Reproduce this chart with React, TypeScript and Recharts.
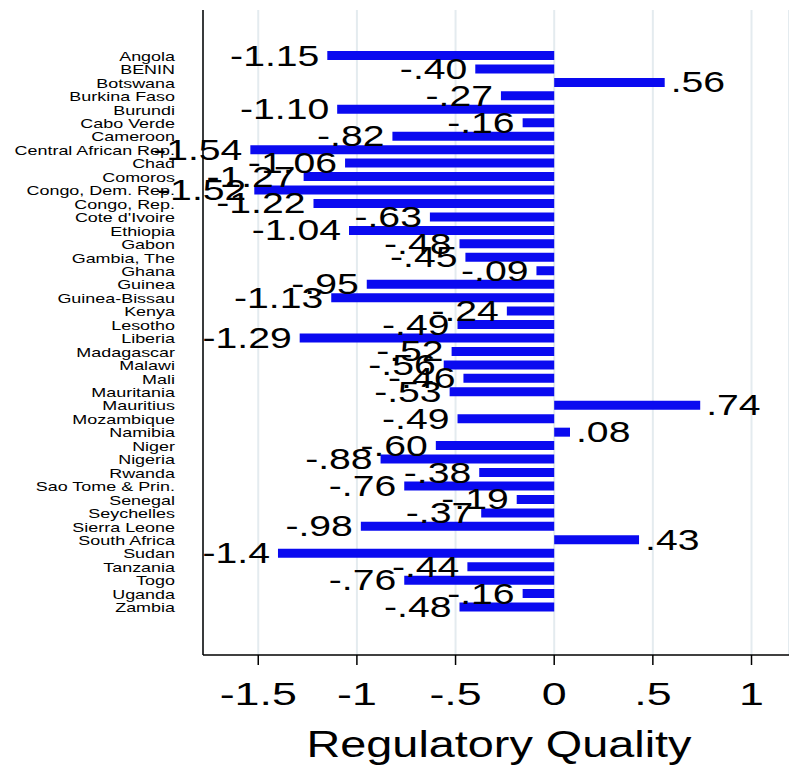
import React from 'react'
import { BarChart, Bar, XAxis, YAxis, CartesianGrid, LabelList } from 'recharts'

const countries = ['Angola', 'BENIN', 'Botswana', 'Burkina Faso', 'Burundi', 'Cabo Verde', 'Cameroon', 'Central African Rep.', 'Chad', 'Comoros', 'Congo, Dem. Rep.', 'Congo, Rep.', "Cote d'Ivoire", 'Ethiopia', 'Gabon', 'Gambia, The', 'Ghana', 'Guinea', 'Guinea-Bissau', 'Kenya', 'Lesotho', 'Liberia', 'Madagascar', 'Malawi', 'Mali', 'Mauritania', 'Mauritius', 'Mozambique', 'Namibia', 'Niger', 'Nigeria', 'Rwanda', 'Sao Tome & Prin.', 'Senegal', 'Seychelles', 'Sierra Leone', 'South Africa', 'Sudan', 'Tanzania', 'Togo', 'Uganda', 'Zambia']
const values = [-1.15, -0.4, 0.56, -0.27, -1.1, -0.16, -0.82, -1.54, -1.06, -1.27, -1.52, -1.22, -0.63, -1.04, -0.48, -0.45, -0.09, -0.95, -1.13, -0.24, -0.49, -1.29, -0.52, -0.56, -0.46, -0.53, 0.74, -0.49, 0.08, -0.6, -0.88, -0.38, -0.76, -0.19, -0.37, -0.98, 0.43, -1.4, -0.44, -0.76, -0.16, -0.48]
const valueLabels = ['-1.15', '-.40', '.56', '-.27', '-1.10', '-.16', '-.82', '-1.54', '-1.06', '-1.27', '-1.52', '-1.22', '-.63', '-1.04', '-.48', '-.45', '-.09', '-.95', '-1.13', '-.24', '-.49', '-1.29', '-.52', '-.56', '-.46', '-.53', '.74', '-.49', '.08', '-.60', '-.88', '-.38', '-.76', '-.19', '-.37', '-.98', '.43', '-1.4', '-.44', '-.76', '-.16', '-.48']
const xTicks = [-1.5, -1, -0.5, 0, 0.5, 1]
const xTickLabels = ['-1.5', '-1', '-.5', '0', '.5', '1']

const data = countries.map((c, i) => ({ country: c, value: values[i], label: valueLabels[i] }))
const font = 'Liberation Sans, Arial, sans-serif'

// stata text is stretched wide, so scale horizontally around the anchor
const EndLabel = (props: any) => {
  const { x, y, width, height, index } = props
  const v = values[index]
  const end = x + width
  const neg = v < 0
  return (
    <g transform={`translate(${neg ? end - 8 : end + 6},${y + height / 2 + 10}) scale(1.35,1)`}>
      <text x={0} y={0} textAnchor={neg ? 'end' : 'start'} fontSize={29} fill="#000" fontFamily={font}>
        {valueLabels[index]}
      </text>
    </g>
  )
}

const XTick = (props: any) => {
  const { x, y, payload } = props
  return (
    <g transform={`translate(${x},${y + 38}) scale(1.4,1)`}>
      <text x={0} y={0} textAnchor="middle" fontSize={32} fill="#000" fontFamily={font}>
        {xTickLabels[xTicks.indexOf(payload.value)]}
      </text>
    </g>
  )
}

const YTick = (props: any) => {
  const { x, y, payload } = props
  return (
    <g transform={`translate(${x - 20},${y + 5}) scale(1.38,1)`}>
      <text x={0} y={0} textAnchor="end" fontSize={13} fill="#000" fontFamily={font}>
        {payload.value}
      </text>
    </g>
  )
}

const Title = (props: any) => {
  const { viewBox } = props
  const cx = viewBox.x + viewBox.width / 2 + 3
  return (
    <g transform={`translate(${cx},757) scale(1.3,1)`}>
      <text x={0} y={0} textAnchor="middle" fontSize={36} fill="#000" fontFamily={font}>Regulatory Quality</text>
    </g>
  )
}

export default function App() {
  return (
    <div style={{ position: 'absolute', left: 0, top: 0, background: '#fff' }}>
      <BarChart width={789} height={767} data={data} layout="vertical"
        margin={{ top: 10, right: 0, bottom: 0, left: 0 }} barCategoryGap={2}>
        <CartesianGrid horizontal={false} stroke="#e4ebef" strokeWidth={2} />
        <XAxis type="number" domain={[-1.78, 1.19]} ticks={xTicks} height={112}
          tick={<XTick />} tickSize={10} stroke="#000" strokeWidth={1.5} allowDataOverflow
          label={<Title />} />
        <YAxis type="category" dataKey="country" width={203} interval={0}
          padding={{ top: 39, bottom: 41 }} tickLine={false} stroke="#000" strokeWidth={1.5}
          tick={<YTick />} />
        <Bar dataKey="value" fill="#0a0af0" barSize={9} isAnimationActive={false}>
          <LabelList dataKey="label" content={<EndLabel />} />
        </Bar>
      </BarChart>
    </div>
  )
}
